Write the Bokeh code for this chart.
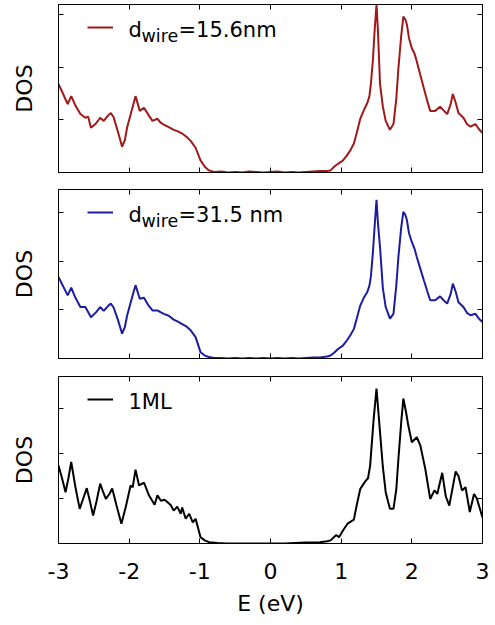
from bokeh.plotting import figure
from bokeh.layouts import column
from bokeh.models import (Range1d, FixedTicker, LinearAxis, Legend, LegendItem, Label)
from bokeh.embed import file_html
from bokeh.resources import INLINE

# ---------------- data ----------------
x_ticks = [-3, -2, -1, 0, 1, 2, 3]
x_tick_labels = ["-3", "-2", "-1", "0", "1", "2", "3"]
y_ticks = [1, 2, 3]

e_red = [-3.00, -2.87, -2.82, -2.76, -2.69, -2.62, -2.58, -2.54, -2.47, -2.41, -2.36, -2.30, -2.26, -2.22,
         -2.16, -2.10, -2.06, -2.03, -1.97, -1.91, -1.85, -1.79, -1.73, -1.67, -1.60, -1.55, -1.51, -1.44,
         -1.37, -1.31, -1.25, -1.19, -1.13, -1.06, -0.99, -0.93, -0.87, -0.80, -0.70, -0.60, -0.50, -0.40,
         -0.30, -0.20, -0.10, 0.00, 0.10, 0.20, 0.30, 0.40, 0.50, 0.60, 0.70, 0.80, 0.85, 0.90, 0.96, 1.02,
         1.08, 1.13, 1.18, 1.22, 1.27, 1.32, 1.37, 1.40, 1.42, 1.45, 1.47, 1.50, 1.52, 1.55, 1.59, 1.63,
         1.69, 1.74, 1.78, 1.81, 1.85, 1.88, 1.91, 1.93, 1.96, 2.00, 2.04, 2.07, 2.12, 2.17, 2.22, 2.26,
         2.33, 2.40, 2.45, 2.50, 2.55, 2.58, 2.62, 2.66, 2.73, 2.78, 2.83, 2.90, 2.95, 3.00]
dos_red = [1.68, 1.30, 1.45, 1.27, 1.11, 1.04, 1.06, 0.85, 0.93, 1.04, 0.98, 1.08, 1.13, 1.05,
           0.78, 0.49, 0.62, 0.85, 1.15, 1.45, 1.17, 1.23, 1.10, 0.98, 1.02, 0.94, 0.91, 0.86,
           0.81, 0.78, 0.74, 0.68, 0.60, 0.47, 0.23, 0.11, 0.04, 0.01, 0.02, 0.00, 0.01, 0.00,
           0.02, 0.01, 0.00, 0.01, 0.02, 0.00, 0.01, 0.00, 0.01, 0.02, 0.03, 0.03, 0.04, 0.11, 0.17, 0.22,
           0.32, 0.42, 0.55, 0.75, 1.02, 1.18, 1.32, 1.45, 1.68, 2.15, 2.62, 3.20, 2.70, 1.68, 1.25, 0.98,
           0.81, 0.92, 1.40, 1.98, 2.60, 2.96, 2.90, 2.81, 2.55, 2.36, 2.25, 2.11, 1.85, 1.60, 1.35, 1.17,
           1.17, 1.25, 1.18, 1.11, 1.30, 1.49, 1.33, 1.13, 1.04, 0.92, 0.87, 0.92, 0.82, 0.75]

e_blue = [-3.00, -2.87, -2.82, -2.76, -2.69, -2.62, -2.54, -2.47, -2.41, -2.36, -2.30, -2.26, -2.22,
          -2.16, -2.10, -2.06, -2.03, -1.97, -1.91, -1.85, -1.79, -1.73, -1.67, -1.60, -1.55, -1.51, -1.44,
          -1.37, -1.31, -1.25, -1.19, -1.13, -1.06, -0.99, -0.93, -0.87, -0.80, -0.70, -0.60, -0.50, -0.40,
          -0.30, -0.20, -0.10, 0.00, 0.10, 0.20, 0.30, 0.40, 0.50, 0.60, 0.70, 0.80, 0.85, 0.90, 0.96, 1.02,
          1.08, 1.13, 1.18, 1.22, 1.27, 1.32, 1.37, 1.40, 1.42, 1.45, 1.47, 1.50, 1.52, 1.55, 1.59, 1.63,
          1.69, 1.74, 1.78, 1.81, 1.85, 1.88, 1.91, 1.93, 1.96, 2.00, 2.04, 2.07, 2.12, 2.17, 2.22, 2.26,
          2.33, 2.40, 2.45, 2.50, 2.55, 2.58, 2.62, 2.66, 2.73, 2.78, 2.83, 2.90, 2.95, 3.00]
dos_blue = [1.68, 1.30, 1.46, 1.25, 1.06, 1.06, 0.85, 0.95, 1.06, 0.98, 1.08, 1.13, 1.05,
            0.80, 0.51, 0.65, 0.88, 1.20, 1.51, 1.23, 1.25, 1.10, 0.99, 0.99, 0.95, 0.92, 0.88,
            0.80, 0.76, 0.71, 0.66, 0.58, 0.44, 0.13, 0.06, 0.03, 0.01, 0.01, 0.00, 0.01, 0.00,
            0.01, 0.00, 0.01, 0.00, 0.01, 0.00, 0.01, 0.00, 0.01, 0.02, 0.02, 0.04, 0.06, 0.12, 0.20, 0.26,
            0.37, 0.48, 0.61, 0.82, 1.09, 1.25, 1.37, 1.50, 1.68, 2.20, 2.64, 3.27, 2.80, 2.29, 1.45, 1.06,
            0.82, 0.92, 1.50, 2.09, 2.70, 3.02, 2.95, 2.85, 2.58, 2.40, 2.25, 2.09, 1.85, 1.61, 1.38, 1.20,
            1.20, 1.28, 1.20, 1.13, 1.33, 1.54, 1.38, 1.16, 1.06, 0.94, 0.89, 0.92, 0.82, 0.75]

e_black = [-3.00, -2.95, -2.90, -2.86, -2.82, -2.76, -2.70, -2.65, -2.60, -2.55, -2.51, -2.46, -2.41,
           -2.37, -2.33, -2.28, -2.24, -2.18, -2.11, -2.05, -1.98, -1.95, -1.91, -1.86, -1.79, -1.72,
           -1.64, -1.60, -1.55, -1.50, -1.46, -1.41, -1.37, -1.32, -1.27, -1.25, -1.20, -1.15, -1.10,
           -1.06, -0.99, -0.93, -0.87, -0.75, -0.62, -0.40, -0.20, 0.00, 0.20, 0.49, 0.70, 0.80, 0.85,
           0.93, 0.97, 1.03, 1.09, 1.18, 1.22, 1.27, 1.34, 1.38, 1.41, 1.46, 1.50, 1.55, 1.59, 1.63,
           1.69, 1.74, 1.78, 1.81, 1.85, 1.88, 1.92, 1.95, 2.00, 2.07, 2.12, 2.19, 2.26, 2.32, 2.36,
           2.43, 2.48, 2.53, 2.62, 2.66, 2.71, 2.76, 2.82, 2.88, 2.92, 3.00]
dos_black = [1.73, 1.45, 1.14, 1.45, 1.81, 1.25, 0.77, 1.00, 1.23, 0.90, 0.62, 0.95, 1.33,
             1.15, 0.99, 1.10, 1.22, 0.85, 0.44, 0.80, 1.29, 1.25, 1.64, 1.29, 1.35, 1.07,
             0.86, 1.07, 0.95, 0.97, 0.92, 0.85, 0.73, 0.82, 0.66, 0.80, 0.55, 0.66, 0.47,
             0.55, 0.14, 0.07, 0.03, 0.01, 0.00, 0.00, 0.00, 0.00, 0.00, 0.02, 0.03, 0.05, 0.07,
             0.19, 0.14, 0.30, 0.44, 0.53, 0.85, 1.21, 1.38, 1.45, 1.73, 2.77, 3.44, 2.47, 1.70, 1.14,
             0.77, 0.77, 1.20, 1.88, 2.70, 3.22, 2.90, 2.62, 2.25, 2.36, 2.18, 1.66, 0.99, 1.18, 1.10,
             1.57, 1.05, 0.84, 1.60, 1.50, 1.18, 1.25, 0.70, 1.10, 1.00, 0.58]

FONT = "DejaVu Sans"


def make_panel(e, dos, color, ymax, height, top, bottom, show_x_labels, parts):
    p = figure(width=495, height=height, output_backend="svg", toolbar_location=None,
               x_range=Range1d(-3, 3), y_range=Range1d(0, ymax),
               min_border_left=58, min_border_right=13, min_border_top=top, min_border_bottom=bottom,
               x_axis_location=None, y_axis_location=None)
    p.grid.visible = False
    p.outline_line_color = "black"
    p.outline_line_width = 1
    p.background_fill_color = "white"
    p.border_fill_color = "white"

    def style(ax, ticks, show_labels=False):
        ax.ticker = FixedTicker(ticks=ticks)
        ax.major_tick_in = 5
        ax.major_tick_out = 0
        ax.minor_tick_in = 0
        ax.minor_tick_out = 0
        ax.axis_line_color = "black"
        ax.major_tick_line_color = "black"
        if show_labels:
            ax.major_label_overrides = dict(zip(x_ticks, x_tick_labels))
            ax.major_label_text_font = FONT
            ax.major_label_text_font_size = "22px"
            ax.major_label_text_color = "black"
            ax.major_label_standoff = 19
        else:
            ax.major_label_text_font_size = "0px"
            ax.major_label_text_color = None
            ax.major_label_standoff = 0

    left = LinearAxis(axis_label="DOS")
    style(left, y_ticks)
    left.axis_label_text_font = FONT
    left.axis_label_text_font_size = "22px"
    left.axis_label_text_font_style = "normal"
    left.axis_label_text_color = "black"
    left.axis_label_standoff = 22
    p.add_layout(left, "left")

    right = LinearAxis()
    style(right, y_ticks)
    p.add_layout(right, "right")

    top_ax = LinearAxis()
    style(top_ax, x_ticks)
    p.add_layout(top_ax, "above")

    bottom_ax = LinearAxis()
    style(bottom_ax, x_ticks, show_x_labels)
    if show_x_labels:
        bottom_ax.axis_label = "E (eV)"
        bottom_ax.axis_label_text_font = FONT
        bottom_ax.axis_label_text_font_size = "22px"
        bottom_ax.axis_label_text_font_style = "normal"
        bottom_ax.axis_label_text_color = "black"
        bottom_ax.axis_label_standoff = 9
    p.add_layout(bottom_ax, "below")

    r = p.line(e, dos, line_color=color, line_width=2)

    fh = height - top - bottom
    legend = Legend(items=[LegendItem(label=" ", renderers=[r])],
                    location=(29, fh - 24 - 9), padding=0, margin=0, spacing=0,
                    glyph_width=26, glyph_height=20, label_height=20, label_standoff=0,
                    label_text_font_size="8px", border_line_alpha=0, background_fill_alpha=0)
    p.add_layout(legend)

    base = fh - 25
    for (txt, x, dy, size) in parts:
        p.add_layout(Label(x=x, y=base + dy, x_units="screen", y_units="screen", text=txt,
                           text_font=FONT, text_font_size=size, text_color="black",
                           text_baseline="alphabetic", text_align="left"))
    return p


p1 = make_panel(e_red, dos_red, "#a01818", 3.19, 180, 4, 8, False,
                [("d", 70, 0, "21px"), ("wire", 83, -6, "17.5px"), ("=15.6nm", 120, 0, "21px")])
p2 = make_panel(e_blue, dos_blue, "#1c1c9e", 3.48, 186, 9, 8, False,
                [("d", 70, 0, "21px"), ("wire", 83, -6, "17.5px"), ("=31.5 nm", 120, 0, "21px")])
p3 = make_panel(e_black, dos_black, "black", 3.71, 259, 10, 82, True,
                [("1ML", 70, 0, "21px")])

layout = column(p1, p2, p3, spacing=0)

open("out.html", "w").write(file_html(layout, INLINE))
